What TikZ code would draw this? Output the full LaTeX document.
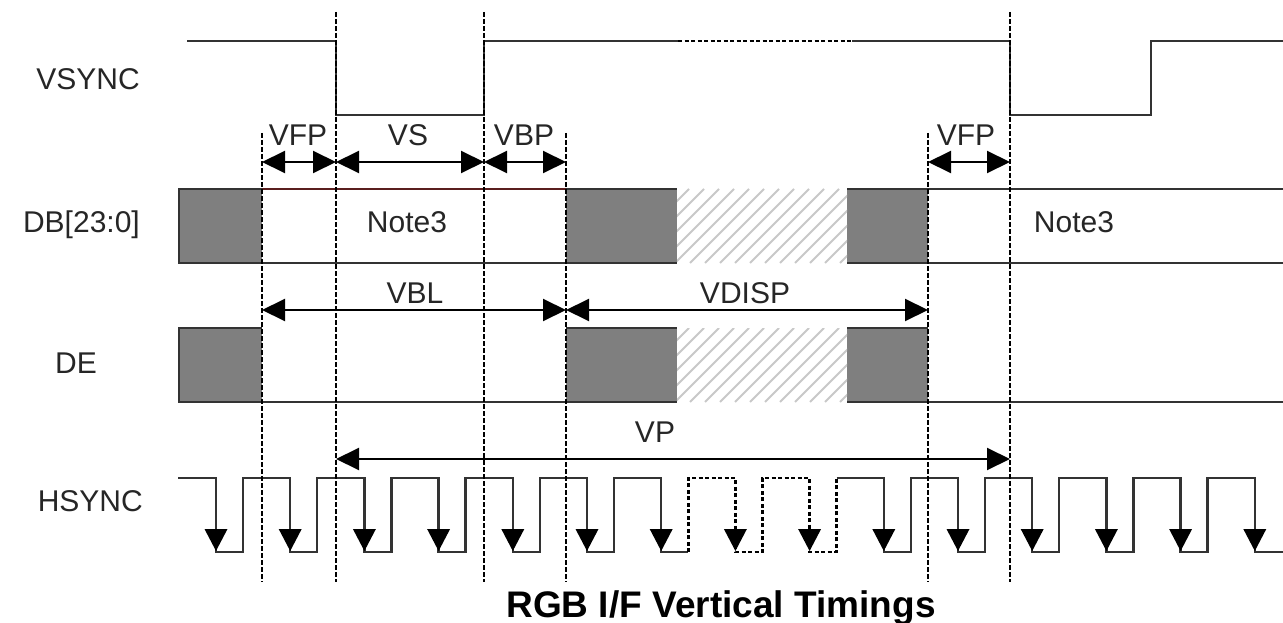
\documentclass[tikz,border=0pt]{standalone}
\usepackage{fontspec}
\setmainfont{Liberation Sans}
\usetikzlibrary{arrows.meta}
\definecolor{sigc}{HTML}{333333}
\definecolor{blkc}{HTML}{7F7F7F}
\definecolor{hatchc}{HTML}{C8C8C8}
\definecolor{redline}{HTML}{5A1E1E}
\begin{document}
\begin{tikzpicture}[x=1pt,y=-1pt,
  sig/.style={draw=sigc, line width=2.5pt},
  sigdash/.style={draw=black, line width=2.6pt, dash pattern=on 4pt off 2.5pt},
  guide/.style={draw=black, line width=2.8pt, dash pattern=on 5pt off 2pt},
  dim/.style={draw=black, line width=2pt, {Triangle[length=23pt,width=22pt]}-{Triangle[length=23pt,width=22pt]}},
  lbl/.style={font=\fontsize{30}{36}\selectfont, inner sep=0pt, anchor=base, text=black!85},
  rowlbl/.style={font=\fontsize{30}{36}\selectfont, inner sep=0pt, anchor=base east, text=black!85},
  blk/.style={fill=blkc},
  hatch/.style={draw=hatchc, line width=2pt},
]
\useasboundingbox (0,0) rectangle (1283,623);
\fill[white] (0,0) rectangle (1283,623);

% ---- row labels
\node[rowlbl] (lvs) at (140,90) {VSYNC};
\node[rowlbl] (ldb) at (140,233) {DB[23:0]};
\node[rowlbl] (lde) at (97,373) {DE};
\node[rowlbl] (lhs) at (143,511) {HSYNC};

% ---- VSYNC
\draw[sig] (187,41) -- (336,41) -- (336,115) -- (484,115) -- (484,41) -- (678,41);
\draw[sigdash] (678,41) -- (852,41);
\draw[sig] (852,41) -- (1010,41) -- (1010,115) -- (1151,115) -- (1151,41) -- (1283,41);

% ---- DB row
\fill[blk] (179,189) rectangle (262,263);
\draw[sig] (262,189) -- (179,189) -- (179,263) -- (262,263);
\fill[blk] (566,189) rectangle (677,263);
\fill[blk] (847,189) rectangle (928,263);
\begin{scope}
  \clip (677,189) rectangle (847,263);
  \foreach \x in {600,615,...,900} \draw[hatch] (\x,263) -- (\x+74,189);
\end{scope}
\draw[draw=redline, line width=2.5pt] (262,189) -- (566,189);
\draw[sig] (262,263) -- (566,263);
\draw[sig] (566,189) -- (677,189);
\draw[sig] (566,263) -- (677,263);
\draw[sig] (847,189) -- (1283,189);
\draw[sig] (847,263) -- (1283,263);
\node[lbl] (n3a) at (407,232) {Note3};
\node[lbl] (n3b) at (1074,232) {Note3};

% ---- DE row
\fill[blk] (179,328) rectangle (262,402);
\draw[sig] (262,328) -- (179,328) -- (179,402) -- (566,402);
\fill[blk] (566,328) rectangle (677,402);
\fill[blk] (847,328) rectangle (928,402);
\begin{scope}
  \clip (677,328) rectangle (847,402);
  \foreach \x in {600,615,...,900} \draw[hatch] (\x,402) -- (\x+74,328);
\end{scope}
\draw[sig] (566,328) -- (677,328);
\draw[sig] (566,402) -- (677,402);
\draw[sig] (847,328) -- (928,328);
\draw[sig] (847,402) -- (1283,402);

% ---- HSYNC
\draw[sig] (178,478)
  \foreach \k in {0,...,5} { -- ({216+74.2*\k},478) -- ({216+74.2*\k},552) -- ({243+74.2*\k},552) -- ({243+74.2*\k},478) }
  -- (661.2,478) -- (661.2,552) -- (688.2,552);
\draw[sigdash] (688.2,552) -- (688.2,478) -- (735.4,478) -- (735.4,552) -- (762.4,552) -- (762.4,478) -- (809.6,478) -- (809.6,552) -- (836.6,552) -- (836.6,478);
\draw[sig] (836.6,478)
  \foreach \k in {9,...,13} { -- ({216+74.2*\k},478) -- ({216+74.2*\k},552) -- ({243+74.2*\k},552) -- ({243+74.2*\k},478) }
  -- (1254.8,478) -- (1254.8,552) -- (1283,552);
\foreach \k in {0,...,14}
  \fill[black] ({216+74.2*\k-11.5},529) -- ({216+74.2*\k+11.5},529) -- ({216+74.2*\k},551) -- cycle;

% ---- timing guides
\coordinate (t1) at (262,133);
\coordinate (t2) at (336,12);
\coordinate (t3) at (484,12);
\coordinate (t4) at (566,133);
\coordinate (t5) at (928,133);
\coordinate (t6) at (1010,12);
\foreach \c in {t1,t2,t3,t4,t5,t6} \draw[guide] (\c) -- (\c |- 0,582);

% ---- dimension arrows
\draw[dim] (t1 |- 0,162) -- (t2 |- 0,162);
\draw[dim] (t2 |- 0,162) -- (t3 |- 0,162);
\draw[dim] (t3 |- 0,162) -- (t4 |- 0,162);
\draw[dim] (t5 |- 0,162) -- (t6 |- 0,162);
\node[lbl] (lvfp) at (298,146) {VFP};
\node[lbl] (lvs2) at (408,146) {VS};
\node[lbl] (lvbp) at (524,146) {VBP};
\node[lbl] (lvfp2) at (966,146) {VFP};

\draw[dim] (t1 |- 0,310) -- (t4 |- 0,310);
\draw[dim] (t4 |- 0,310) -- (t5 |- 0,310);
\node[lbl] (lvbl) at (415,303) {VBL};
\node[lbl] (lvdisp) at (745,303) {VDISP};

\draw[dim] (t2 |- 0,459) -- (t6 |- 0,459);
\node[lbl] (lvp) at (655,442) {VP};

% ---- title
\node[font=\fontsize{37}{44}\selectfont\bfseries, inner sep=0pt, anchor=base] (title) at (721,617) {RGB I/F Vertical Timings};
\end{tikzpicture}
\end{document}
